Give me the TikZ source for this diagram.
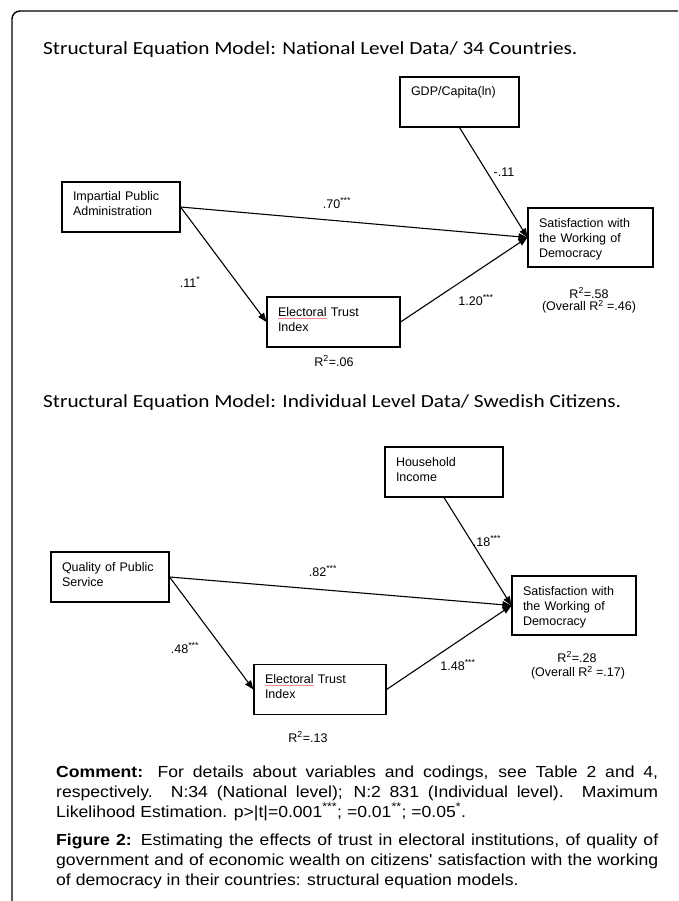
\documentclass[tikz,border=0pt]{standalone}
\usepackage{fontspec}
\setmainfont{Liberation Sans}
\newfontfamily\titlefont[FakeStretch=1.15]{Carlito}
\newfontfamily\notefont[FakeStretch=1.1]{Liberation Sans}
\usepackage{tikz}
\usetikzlibrary{
    arrows.meta,
    positioning
}
\newcommand{\spell}[1]{\sbox0{#1}\rlap{\color{red!45}\rule[-2.2pt]{\wd0}{0.6pt}}\usebox0}

\begin{document}
\begin{tikzpicture}[x=1pt, y=-1pt,
    var/.style={draw, line width=1.1pt, inner xsep=11pt, inner ysep=0pt,
        align=left, text width=96pt, text height=19pt, text depth=31pt,
        font=\fontsize{12.5}{15}\selectfont},
    outcome/.style={var, text width=103pt, text depth=40pt},
    coef/.style={inner sep=0pt, font=\fontsize{12.5}{15}\selectfont},
    effect/.style={line width=1.1pt, -{Triangle[length=9pt, width=7pt]}},
    heading/.style={anchor=base west, inner sep=0pt,
        font=\titlefont\fontsize{18.5}{22}\selectfont},
    caption/.style={anchor=base west, inner sep=0pt, text width=602pt,
        align=justify, font=\notefont\fontsize{16}{20}\selectfont}
]
    \useasboundingbox (0,0) rectangle (678,901);
    \draw[line width=1.4pt, rounded corners=8pt] (12,901) -- (12,11) -- (678,11);

    \node[heading] (title1) at (43,55) {Structural Equation Model: National Level Data/ 34 Countries.};

    \node[var, text width=97pt] (gdp) at (459.5,102) {GDP/Capita(ln)};
    \node[var] (ipa) at (121,207) {Impartial Public\\Administration};
    \node[outcome] (sat1) at (590.5,237.5) {Satisfaction with\\the Working of\\Democracy};
    \node[var, text width=111pt] (eti1) at (333.5,322) {\spell{Electoral} Trust\\Index};

    \draw[effect] (gdp.south) -- (sat1.west);
    \draw[effect] (ipa.east) -- (sat1.west);
    \draw[effect] (ipa.east) -- (eti1.west);
    \draw[effect] (eti1.east) -- (sat1.west);

    \node[coef] (b-gdp) at (504,172) {-.11};
    \node[coef] (b-ipa) at (337,203) {.70\textsuperscript{***}};
    \node[coef] (b-ipa-eti) at (190,282) {.11\textsuperscript{*}};
    \node[coef] (b-eti) at (476,300) {1.20\textsuperscript{***}};
    \node[coef] (r2-sat1) at (589,293) {R\textsuperscript{2}=.58};
    \node[coef] (r2-all1) at (589,307) {(Overall R\textsuperscript{2} =.46)};
    \node[coef] (r2-eti1) at (334,361) {R\textsuperscript{2}=.06};

    \node[heading] (title2) at (43,407) {Structural Equation Model: Individual Level Data/ Swedish Citizens.};

    \node[var] (hh) at (444,472) {Household\\Income};
    \node[var] (qps) at (110,577) {Quality of Public\\Service};
    \node[outcome, text width=102pt] (sat2) at (574,605.5) {Satisfaction with\\the Working of\\Democracy};
    \node[var, text width=110pt] (eti2) at (320,689.5) {\spell{Electoral} Trust\\Index};

    \draw[effect] (hh.south) -- (sat2.west);
    \draw[effect] (qps.east) -- (sat2.west);
    \draw[effect] (qps.east) -- (eti2.west);
    \draw[effect] (eti2.east) -- (sat2.west);

    \node[coef] (b-hh) at (487,541) {.18\textsuperscript{***}};
    \node[coef] (b-qps) at (323,571) {.82\textsuperscript{***}};
    \node[coef] (b-qps-eti) at (185,648) {.48\textsuperscript{***}};
    \node[coef] (b-eti2) at (458,665) {1.48\textsuperscript{***}};
    \node[coef] (r2-sat2) at (577,657) {R\textsuperscript{2}=.28};
    \node[coef] (r2-all2) at (578,673) {(Overall R\textsuperscript{2} =.17)};
    \node[coef] (r2-eti2) at (308,737) {R\textsuperscript{2}=.13};

    \node[caption] (comment) at (56,777) {\textbf{Comment:} For details about variables and codings, see Table 2 and 4,\linebreak respectively. N:34 (National level); N:2 831 (Individual level). Maximum\linebreak Likelihood Estimation. p>|t|=0.001\textsuperscript{***}; =0.01\textsuperscript{**}; =0.05\textsuperscript{*}.};
    \node[caption] (figcap) at (56,845) {\textbf{Figure 2:} Estimating the effects of trust in electoral institutions, of quality of\linebreak government and of economic wealth on citizens' satisfaction with the working\linebreak of democracy in their countries: structural equation models.};
\end{tikzpicture}
\end{document}
